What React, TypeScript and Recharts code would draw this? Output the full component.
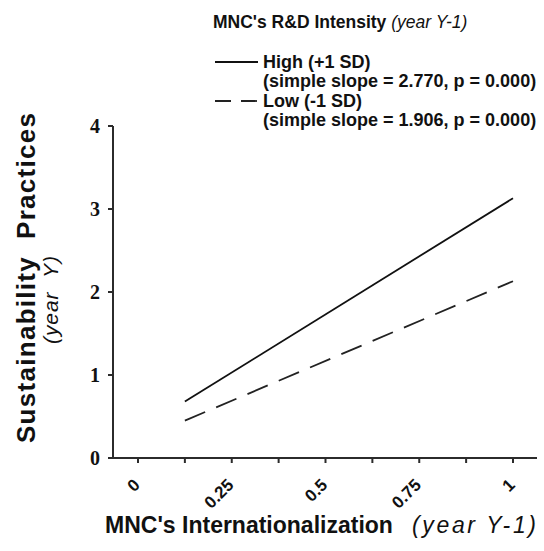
import React from 'react';
import { LineChart, Line, XAxis, YAxis } from 'recharts';

const internationalization = [0.125, 1];
const highRnd = [0.68, 3.13];
const lowRnd = [0.45, 2.13];
const xTicks = [0, 0.125, 0.25, 0.375, 0.5, 0.625, 0.75, 0.875, 1];
const xTickLabels: Record<string, string> = { '0': '0', '0.25': '0.25', '0.5': '0.5', '0.75': '0.75', '1': '1' };
const yTicks = [0, 1, 2, 3, 4];

const data = internationalization.map((x, i) => ({ x, high: highRnd[i], low: lowRnd[i] }));

const sans = '"Liberation Sans", Arial, sans-serif';
const axisColor = '#2b2b2b';

function XTick(props: any) {
  const { x, y, payload } = props;
  const label = xTickLabels[String(payload.value)];
  if (!label) return null;
  const tx = x + 3;
  const ty = y + 21;
  return (
    <text
      x={tx}
      y={ty}
      transform={`rotate(-45 ${tx} ${ty})`}
      textAnchor="end"
      fontFamily={sans}
      fontWeight="bold"
      fontSize={17}
      fill="#111"
    >
      {label}
    </text>
  );
}

export default function App() {
  return (
    <div style={{ position: 'absolute', left: 0, top: 0, width: 544, height: 551, background: '#fff' }}>
      <LineChart
        width={544}
        height={551}
        data={data}
        margin={{ top: 126, right: 7, bottom: 53, left: 83 }}
      >
        <XAxis
          dataKey="x"
          type="number"
          domain={[0, 1]}
          ticks={xTicks}
          padding={{ left: 25, right: 24 }}
          height={40}
          tickSize={5}
          stroke={axisColor}
          strokeWidth={2}
          tick={<XTick />}
          interval={0}
        />
        <YAxis
          type="number"
          domain={[0, 4]}
          ticks={yTicks}
          width={30}
          tickSize={5}
          tickMargin={8}
          stroke={axisColor}
          strokeWidth={2}
          tick={{ fontFamily: '"Liberation Serif", serif', fontWeight: 'bold', fontSize: 20, fill: '#111' }}
        />
        <Line
          dataKey="high"
          type="linear"
          stroke="#111"
          strokeWidth={1.8}
          dot={false}
          isAnimationActive={false}
        />
        <Line
          dataKey="low"
          type="linear"
          stroke="#222"
          strokeWidth={1.8}
          strokeDasharray="22 12"
          dot={false}
          isAnimationActive={false}
        />
      </LineChart>
      <svg
        width={544}
        height={551}
        style={{ position: 'absolute', left: 0, top: 0, pointerEvents: 'none' }}
        fontFamily={sans}
        fill="#111"
      >
        <text x={213} y={28} fontSize={17.5} fontWeight="bold">
          MNC's R&amp;D Intensity <tspan fontStyle="italic" fontWeight="normal">(year Y-1)</tspan>
        </text>
        <line x1={215} x2={258} y1={62} y2={62} stroke="#111" strokeWidth={1.8} />
        <text x={263} y={68} fontSize={18} fontWeight="bold">High (+1 SD)</text>
        <text x={263} y={87} fontSize={18} fontWeight="bold">(simple slope = 2.770, p = 0.000)</text>
        <line x1={215} x2={258} y1={101} y2={101} stroke="#222" strokeWidth={1.8} strokeDasharray="16 10" />
        <text x={263} y={107} fontSize={18} fontWeight="bold">Low (-1 SD)</text>
        <text x={263} y={126} fontSize={18} fontWeight="bold">(simple slope = 1.906, p = 0.000)</text>
        <text
          x={35}
          y={278}
          transform="rotate(-90 35 278)"
          textAnchor="middle"
          fontSize={26}
          fontWeight="bold"
          textLength={330}
          lengthAdjust="spacing"
        >
          Sustainability{'\u00a0\u00a0'}Practices
        </text>
        <text
          x={58}
          y={300}
          transform="rotate(-90 58 300)"
          textAnchor="middle"
          fontSize={21}
          fontStyle="italic"
          textLength={88}
          lengthAdjust="spacing"
        >
          (year{'\u00a0\u00a0'}Y)
        </text>
        <text x={105} y={533} fontSize={23} fontWeight="bold">
          MNC's Internationalization
        </text>
        <text x={412} y={533} fontSize={23} fontStyle="italic" textLength={124} lengthAdjust="spacing">
          (year Y-1)
        </text>
      </svg>
    </div>
  );
}
